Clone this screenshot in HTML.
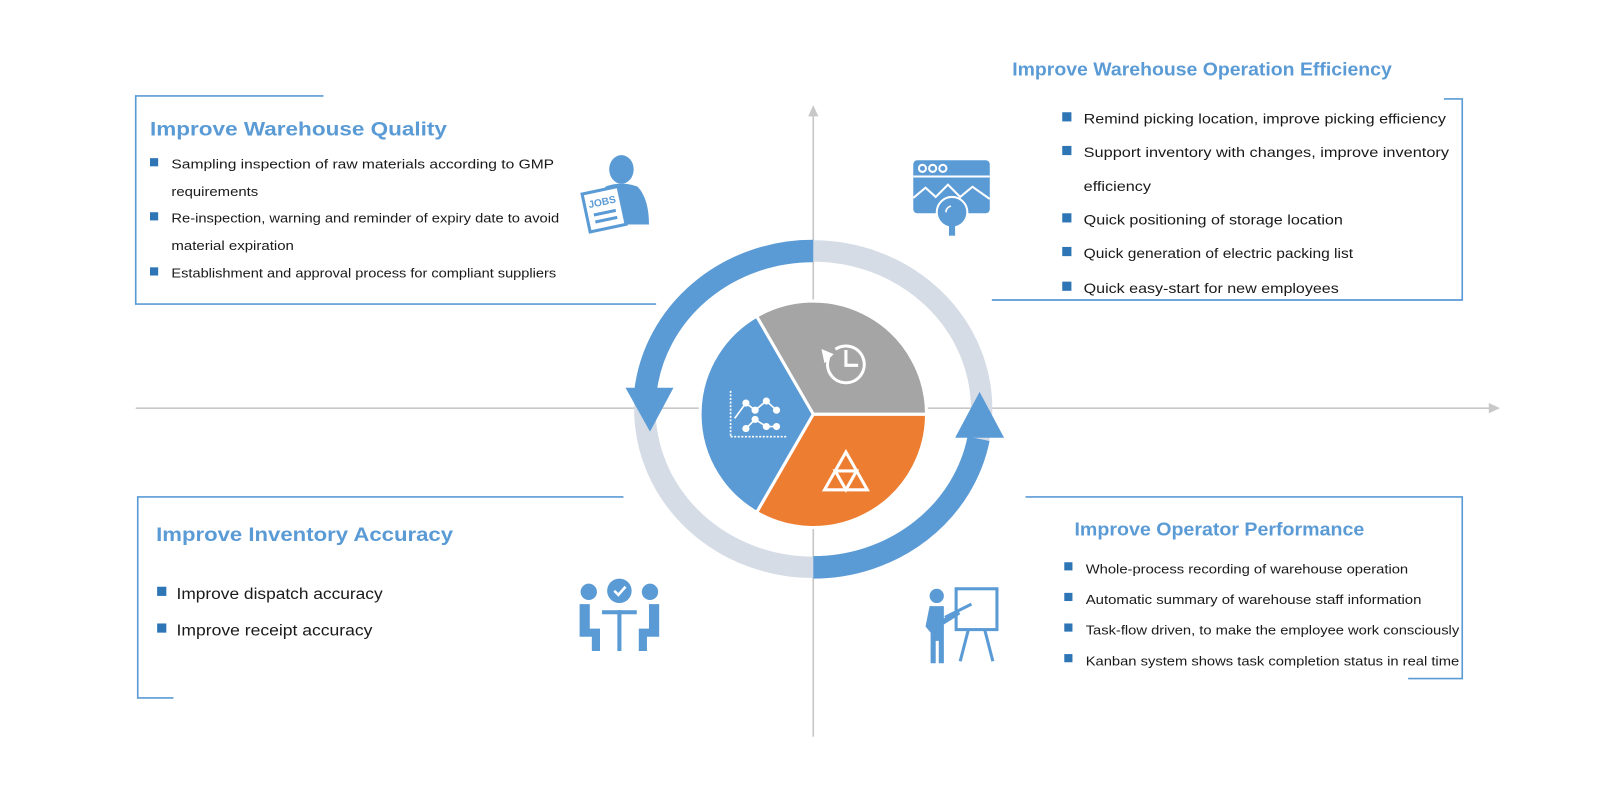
<!DOCTYPE html>
<html><head><meta charset="utf-8"><style>
html,body{margin:0;padding:0;background:#fff;width:1600px;height:800px;overflow:hidden}
svg{display:block}
.t{font-family:"Liberation Sans",sans-serif;font-weight:bold;fill:#5b9bd5}
.b{font-family:"Liberation Sans",sans-serif;fill:#1a1a1a}
</style></head><body>
<svg width="1600" height="800" viewBox="0 0 1568 784" xmlns="http://www.w3.org/2000/svg">
<!-- axes -->
<g stroke="#c8c8c8" stroke-width="1.6" fill="none">
<line x1="133" y1="400" x2="1462" y2="400"/>
<line x1="797" y1="112" x2="797" y2="722"/>
</g>
<polygon points="1470,400 1459,395 1459,405" fill="#c8c8c8"/>
<polygon points="797,103 792,114 802,114" fill="#c8c8c8"/>

<!-- box lines -->
<g stroke="#5b9bd5" stroke-width="1.6" fill="none">
<polyline points="317,94 133,94 133,298 643,298"/>
<polyline points="1415,97 1433,97 1433,294 972,294"/>
<polyline points="611,487 135,487 135,684 170,684"/>
<polyline points="1005,487 1433,487 1433,665 1380,665"/>
</g>

<!-- ring -->
<ellipse cx="797" cy="401" rx="165" ry="155" fill="none" stroke="#d5dce6" stroke-width="21"/>
<path d="M797,246 A165,155 0 0 0 632.5,384" fill="none" stroke="#5b9bd5" stroke-width="22"/>
<polygon points="613,380 660,380 637,423" fill="#5b9bd5"/>
<path d="M797,556 A165,155 0 0 0 959,430" fill="none" stroke="#5b9bd5" stroke-width="22"/>
<polygon points="936,429 984,429 960,384" fill="#5b9bd5"/>

<!-- pie -->
<g stroke="#fff" stroke-width="3">
<path d="M797,406 L741.5,309.9 A111,111 0 0 1 908,406 Z" fill="#a5a5a5"/>
<path d="M797,406 L908,406 A111,111 0 0 1 741.5,502.1 Z" fill="#ed7d31"/>
<path d="M797,406 L741.5,502.1 A111,111 0 0 1 741.5,309.9 Z" fill="#5b9bd5"/>
</g>
<!-- clock icon -->
<g fill="none" stroke="#fff" stroke-width="3">
<path d="M812.1,350.8 A18,18 0 1 0 818.7,342.3"/>
<polyline points="829,343 829,358 841,358"/>
</g>
<polygon points="805,342 817,347 808,356" fill="#fff"/>
<!-- chart icon -->
<g fill="none" stroke="#fff" stroke-width="1.6">
<line x1="716" y1="383" x2="716" y2="428" stroke-dasharray="2 1.5"/>
<line x1="716" y1="428" x2="772" y2="428" stroke-dasharray="2 1.5"/>
<polyline points="720,410 731,395 740,402 751,393 761,402"/>
<polyline points="731,420 740,411 751,418 761,418"/>
</g>
<g fill="#fff"><circle cx="731" cy="395" r="3.5"/><circle cx="740" cy="402" r="3.5"/><circle cx="751" cy="393" r="3.5"/><circle cx="761" cy="402" r="3.5"/><circle cx="731" cy="420" r="3.5"/><circle cx="740" cy="411" r="3.5"/><circle cx="751" cy="418" r="3.5"/><circle cx="761" cy="418" r="3.5"/></g>
<!-- triangle icon -->
<g fill="none" stroke="#fff" stroke-width="3">
<polygon points="829,443 850,480 808,480"/>
<polygon points="818.5,461.5 839.5,461.5 829,480"/>
</g>

<!-- titles -->
<text class="t" x="147" y="133" font-size="19" textLength="291" lengthAdjust="spacingAndGlyphs">Improve Warehouse Quality</text>
<text class="t" x="992" y="74" font-size="18" textLength="372" lengthAdjust="spacingAndGlyphs">Improve Warehouse Operation Efficiency</text>
<text class="t" x="153" y="530" font-size="19" textLength="291" lengthAdjust="spacingAndGlyphs">Improve Inventory Accuracy</text>
<text class="t" x="1053" y="525" font-size="18" textLength="284" lengthAdjust="spacingAndGlyphs">Improve Operator Performance</text>

<!-- bullets -->
<g fill="#2e75b6">
<rect x="147" y="155" width="8" height="8"/><rect x="147" y="208" width="8" height="8"/><rect x="147" y="262" width="8" height="8"/>
<rect x="1041" y="110" width="9" height="9"/><rect x="1041" y="143" width="9" height="9"/><rect x="1041" y="209" width="9" height="9"/><rect x="1041" y="242" width="9" height="9"/><rect x="1041" y="276" width="9" height="9"/>
<rect x="154" y="575" width="9" height="9"/><rect x="154" y="611" width="9" height="9"/>
<rect x="1043" y="551" width="8" height="8"/><rect x="1043" y="581" width="8" height="8"/><rect x="1043" y="611" width="8" height="8"/><rect x="1043" y="641" width="8" height="8"/>
</g>
<g class="b" font-size="13">
<text x="168" y="165" textLength="375" lengthAdjust="spacingAndGlyphs">Sampling inspection of raw materials according to GMP</text>
<text x="168" y="192" textLength="85" lengthAdjust="spacingAndGlyphs">requirements</text>
<text x="168" y="218" textLength="380" lengthAdjust="spacingAndGlyphs">Re-inspection, warning and reminder of expiry date to avoid</text>
<text x="168" y="245" textLength="120" lengthAdjust="spacingAndGlyphs">material expiration</text>
<text x="168" y="272" textLength="377" lengthAdjust="spacingAndGlyphs">Establishment and approval process for compliant suppliers</text>
</g>
<g class="b" font-size="14">
<text x="1062" y="121" textLength="355" lengthAdjust="spacingAndGlyphs">Remind picking location, improve picking efficiency</text>
<text x="1062" y="154" textLength="358" lengthAdjust="spacingAndGlyphs">Support inventory with changes, improve inventory</text>
<text x="1062" y="187" textLength="66" lengthAdjust="spacingAndGlyphs">efficiency</text>
<text x="1062" y="220" textLength="254" lengthAdjust="spacingAndGlyphs">Quick positioning of storage location</text>
<text x="1062" y="253" textLength="264" lengthAdjust="spacingAndGlyphs">Quick generation of electric packing list</text>
<text x="1062" y="287" textLength="250" lengthAdjust="spacingAndGlyphs">Quick easy-start for new employees</text>
</g>
<g class="b" font-size="15">
<text x="173" y="587" textLength="202" lengthAdjust="spacingAndGlyphs">Improve dispatch accuracy</text>
<text x="173" y="623" textLength="192" lengthAdjust="spacingAndGlyphs">Improve receipt accuracy</text>
</g>
<g class="b" font-size="13">
<text x="1064" y="562" textLength="316" lengthAdjust="spacingAndGlyphs">Whole-process recording of warehouse operation</text>
<text x="1064" y="592" textLength="329" lengthAdjust="spacingAndGlyphs">Automatic summary of warehouse staff information</text>
<text x="1064" y="622" textLength="366" lengthAdjust="spacingAndGlyphs">Task-flow driven, to make the employee work consciously</text>
<text x="1064" y="652" textLength="366" lengthAdjust="spacingAndGlyphs">Kanban system shows task completion status in real  time</text>
</g>

<!-- JOBS icon -->
<g fill="#5b9bd5">
<ellipse cx="609" cy="166" rx="12" ry="14"/>
<path d="M593,183 Q609,177 625,183 Q636,195 636,220 L600,220 Z"/>
</g>
<g transform="rotate(-12 592 205)">
<rect x="574" y="186" width="36" height="38" fill="#fff" stroke="#5b9bd5" stroke-width="3"/>
<text x="578" y="201" font-family="Liberation Sans,sans-serif" font-weight="bold" font-size="10" fill="#5b9bd5">JOBS</text>
<rect x="581" y="207" width="22" height="3" fill="#5b9bd5"/><rect x="581" y="214" width="22" height="3" fill="#5b9bd5"/>
</g>

<!-- browser icon -->
<rect x="895" y="157" width="75" height="52" rx="4" fill="#5b9bd5"/>
<line x1="895" y1="173" x2="970" y2="173" stroke="#fff" stroke-width="2"/>
<g fill="none" stroke="#fff" stroke-width="2"><circle cx="904" cy="165" r="3.5"/><circle cx="914" cy="165" r="3.5"/><circle cx="924" cy="165" r="3.5"/>
<polyline points="895,194 907,184 917,193 929,181 941,193 953,183 970,195"/></g>
<circle cx="933" cy="208" r="15" fill="#5b9bd5" stroke="#fff" stroke-width="2"/>
<rect x="930" y="221" width="6" height="10" fill="#5b9bd5"/>
<path d="M927,208 A6,6 0 0 1 932,202" fill="none" stroke="#fff" stroke-width="1.6"/>

<!-- people icon -->
<g fill="#5b9bd5">
<circle cx="577" cy="580" r="8"/><circle cx="637" cy="580" r="8"/><circle cx="607" cy="579" r="12"/>
<path d="M568,592 h10 v24 h10 v22 h-8 v-14 h-12 Z"/>
<path d="M646,592 h-10 v24 h-10 v22 h8 v-14 h12 Z"/>
<rect x="590" y="598" width="34" height="4"/>
<rect x="605" y="598" width="4" height="40"/>
</g>
<polyline points="602,579 606,583 613,575" fill="none" stroke="#fff" stroke-width="2.5"/>

<!-- presenter icon -->
<g fill="#5b9bd5">
<circle cx="918" cy="584" r="7"/>
<path d="M911,594 h14 v12 l14,-8 l2,4 l-16,10 v38 h-5 v-22 h-3 v22 h-5 v-30 l-5,-6 Z"/>
</g>
<rect x="937" y="577" width="40" height="40" fill="none" stroke="#5b9bd5" stroke-width="3"/>
<g stroke="#5b9bd5" stroke-width="3"><line x1="949" y1="617" x2="941" y2="648"/><line x1="965" y1="617" x2="973" y2="648"/><line x1="926" y1="605" x2="952" y2="592"/></g>
</svg>
</body></html>
